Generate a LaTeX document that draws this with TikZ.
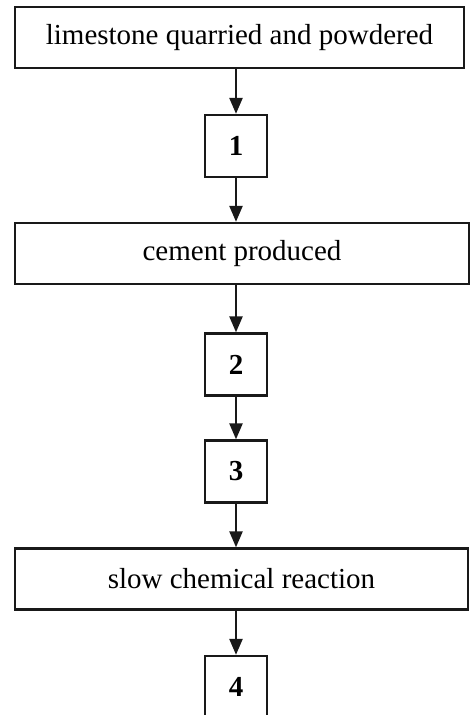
\documentclass[tikz,border=0pt]{standalone}
\usepackage{fontspec}
\setmainfont{Liberation Serif}
\usetikzlibrary{arrows.meta}
\begin{document}
\begin{tikzpicture}[x=1pt,y=-1pt,
  wide/.style={draw=black!90,line width=2.3pt,minimum height=61pt,inner sep=0pt,font=\fontsize{29}{33}\selectfont},
  num/.style={draw=black!90,line width=2.3pt,minimum width=62pt,minimum height=62pt,inner sep=0pt,font=\fontsize{29}{33}\selectfont\bfseries},
  arr/.style={draw=black!90,line width=2.3pt,-{Triangle[width=13pt,length=16pt]}}]
\useasboundingbox (0,0) rectangle (470,715);
\clip (0,0) rectangle (470,715);
\node[wide,minimum width=449pt] (top) at (239.5,37.5) {limestone quarried and powdered};
\node[num] (n1) at (236,146) {1};
\node[wide,minimum width=454pt] (cem) at (242,253.5) {cement produced};
\node[num] (n2) at (236,364.5) {2};
\node[num] (n3) at (236,471.5) {3};
\node[wide,minimum width=453pt] (slow) at (241.5,579) {slow chemical reaction};
\node[num] (n4) at (236,687) {4};
\draw[arr] (n1.north |- top.south) -- (n1.north);
\draw[arr] (n1.south) -- (n1.south |- cem.north);
\draw[arr] (n2.north |- cem.south) -- (n2.north);
\draw[arr] (n2.south) -- (n3.north);
\draw[arr] (n3.south) -- (n3.south |- slow.north);
\draw[arr] (n4.north |- slow.south) -- (n4.north);
\end{tikzpicture}
\end{document}
